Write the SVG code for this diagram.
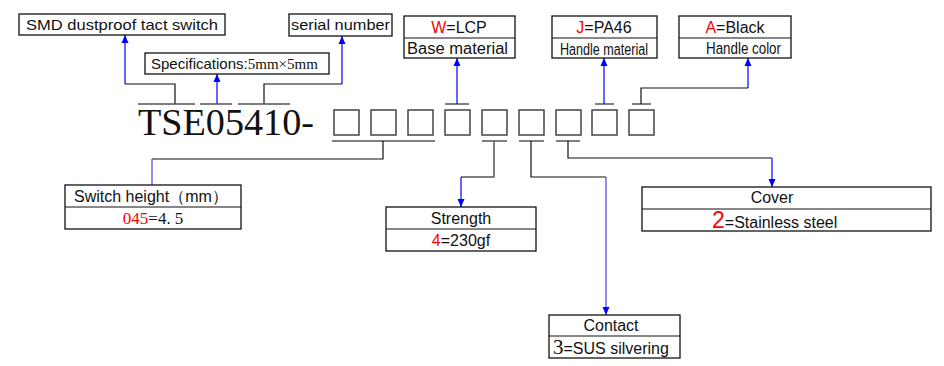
<svg xmlns="http://www.w3.org/2000/svg" width="944" height="366" viewBox="0 0 944 366">
<defs>
<marker id="ah" viewBox="0 0 8 14" refX="8" refY="7" markerWidth="8" markerHeight="14" markerUnits="userSpaceOnUse" orient="auto">
<path d="M0,3.5 L8,7 L0,10.5 Z" fill="#0000ff"/>
</marker>
<style>
.box{fill:#fff;stroke:#111;stroke-width:1.3}
.div{stroke:#111;stroke-width:1.2}
.sq{fill:none;stroke:#444;stroke-width:1.5}
.ln{fill:none;stroke:#111;stroke-width:1.2}
.tk{fill:none;stroke:#555;stroke-width:1.5}
.bl{fill:none;stroke:#0000ff;stroke-width:1.2}
.blm{fill:none;stroke:#4444ff;stroke-width:1.2}
.t{font-family:"Liberation Sans",Arial,sans-serif;font-size:15px;fill:#111}
.t16{font-family:"Liberation Sans",Arial,sans-serif;font-size:16px;fill:#111}
.s{font-family:"Liberation Serif","Times New Roman",serif;fill:#111}
.r{fill:#ff0000}
.c{text-anchor:middle}
</style>
</defs>

<g id="connectors">
<polyline class="ln" points="175,104 175,84 125,84"/>
<line class="bl" x1="125" y1="84" x2="125" y2="35" marker-end="url(#ah)"/>
<line class="bl" x1="217" y1="104" x2="217" y2="74" marker-end="url(#ah)"/>
<polyline class="ln" points="264,104 264,84 342,84"/>
<line class="bl" x1="342" y1="84" x2="342" y2="36" marker-end="url(#ah)"/>
<line class="tk" x1="138" y1="104" x2="195" y2="104"/>
<line class="tk" x1="200" y1="104" x2="232" y2="104"/>
<line class="tk" x1="238" y1="104" x2="290" y2="104"/>
<line class="tk" x1="445" y1="104" x2="469" y2="104"/>
<line class="bl" x1="457" y1="104" x2="457" y2="58" marker-end="url(#ah)"/>
<line class="tk" x1="595" y1="104" x2="614" y2="104"/>
<line class="bl" x1="604" y1="104" x2="604" y2="58" marker-end="url(#ah)"/>
<line class="tk" x1="632" y1="104" x2="651" y2="104"/>
<polyline class="ln" points="641,104 641,88 748,88"/>
<line class="bl" x1="748" y1="88" x2="748" y2="58" marker-end="url(#ah)"/>
<line class="tk" x1="332" y1="141" x2="435" y2="141"/>
<polyline class="ln" points="383,141 383,159 152,159"/>
<line class="blm" x1="152" y1="159" x2="152" y2="185"/>
<line class="tk" x1="482" y1="141" x2="507" y2="141"/>
<polyline class="tk" points="494,141 494,177 461,177"/>
<line class="bl" x1="461" y1="177" x2="461" y2="207" marker-end="url(#ah)"/>
<line class="tk" x1="519" y1="141" x2="544" y2="141"/>
<polyline class="ln" points="531,141 531,177 606,177"/>
<line class="blm" x1="606" y1="177" x2="606" y2="315" marker-end="url(#ah)"/>
<line class="tk" x1="556" y1="141" x2="580" y2="141"/>
<polyline class="ln" points="568,141 568,158 772,158"/>
<line class="bl" x1="772" y1="158" x2="772" y2="187" marker-end="url(#ah)"/>
</g>

<g id="code">
<text class="s" x="138" y="135" font-size="38" textLength="176" lengthAdjust="spacingAndGlyphs">TSE05410-</text>
<rect class="sq" x="334" y="110" width="25" height="25"/>
<rect class="sq" x="371" y="110" width="25" height="25"/>
<rect class="sq" x="408" y="110" width="25" height="25"/>
<rect class="sq" x="445" y="110" width="25" height="25"/>
<rect class="sq" x="482" y="110" width="25" height="25"/>
<rect class="sq" x="519" y="110" width="25" height="25"/>
<rect class="sq" x="556" y="110" width="25" height="25"/>
<rect class="sq" x="592" y="110" width="25" height="25"/>
<rect class="sq" x="629" y="110" width="25" height="25"/>
</g>

<g id="smd">
<rect class="box" x="19" y="14" width="206" height="21"/>
<text class="t" x="26" y="30" textLength="192" lengthAdjust="spacingAndGlyphs">SMD dustproof tact switch</text>
</g>

<g id="spec">
<rect class="box" x="145" y="53" width="184" height="21"/>
<text class="t" x="151" y="69">Specifications:<tspan class="s" font-size="15">5mm×5mm</tspan></text>
</g>

<g id="serial">
<rect class="box" x="289" y="14" width="103" height="22"/>
<text class="t" x="291" y="30" textLength="99" lengthAdjust="spacingAndGlyphs">serial number</text>
</g>

<g id="base">
<rect class="box" x="404" y="16" width="111" height="42"/>
<line class="div" x1="404" y1="38" x2="515" y2="38"/>
<text class="t16 c" x="459" y="33"><tspan class="r">W</tspan>=LCP</text>
<text class="t16" x="407" y="54" textLength="101" lengthAdjust="spacingAndGlyphs">Base material</text>
</g>

<g id="handle-material">
<rect class="box" x="552" y="16" width="105" height="42"/>
<line class="div" x1="552" y1="38" x2="657" y2="38"/>
<text class="t16 c" x="604" y="33"><tspan class="r">J</tspan>=PA46</text>
<text class="t16" x="560" y="55" textLength="88" lengthAdjust="spacingAndGlyphs">Handle material</text>
</g>

<g id="handle-color">
<rect class="box" x="679" y="16" width="112" height="42"/>
<line class="div" x1="679" y1="38" x2="791" y2="38"/>
<text class="t16 c" x="735" y="33"><tspan class="r">A</tspan>=Black</text>
<text class="t16" x="706" y="54" textLength="75" lengthAdjust="spacingAndGlyphs">Handle color</text>
</g>

<g id="switch-height">
<rect class="box" x="65" y="185" width="176" height="44"/>
<line class="div" x1="65" y1="207" x2="241" y2="207"/>
<text class="t16" x="74" y="202">Switch height（mm）</text>
<text class="s c" x="153" y="224" font-size="17"><tspan class="r">045</tspan>=4.<tspan dx="4">5</tspan></text>
</g>

<g id="strength">
<rect class="box" x="386" y="207" width="150" height="44"/>
<line class="div" x1="386" y1="229" x2="536" y2="229"/>
<text class="t16 c" x="461" y="224">Strength</text>
<text class="t16 c" x="461" y="246"><tspan class="r">4</tspan>=230gf</text>
</g>

<g id="contact">
<rect class="box" x="549" y="315" width="131" height="43"/>
<line class="div" x1="549" y1="336" x2="680" y2="336"/>
<text class="t16 c" x="611" y="331">Contact</text>
<text class="t16" x="553" y="354"><tspan class="s" font-size="21">3</tspan>=SUS silvering</text>
</g>

<g id="cover">
<rect class="box" x="642" y="187" width="289" height="44"/>
<line class="div" x1="642" y1="209" x2="931" y2="209"/>
<text class="t16 c" x="772" y="203">Cover</text>
<text class="t16" x="712" y="228"><tspan class="r" font-size="23">2</tspan>=Stainless steel</text>
</g>
</svg>
